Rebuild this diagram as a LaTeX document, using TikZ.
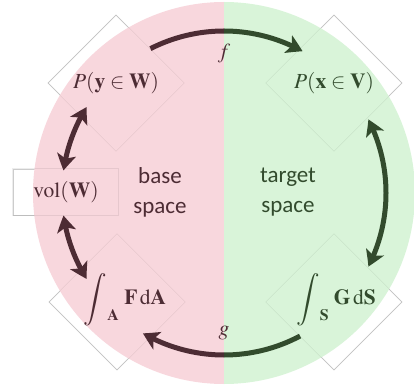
\documentclass[tikz,border=0pt]{standalone}
\usepackage{mathptmx}
\usepackage[no-math]{fontspec}
\newfontfamily\carlito{Carlito}
\usetikzlibrary{shapes.geometric,arrows.meta,calc,bending}
\definecolor{pinkbg}{RGB}{248,215,221}
\definecolor{greenbg}{RGB}{217,244,217}
\definecolor{maroonc}{RGB}{77,44,52}
\definecolor{dgreen}{RGB}{50,75,45}
\newcommand{\bigintsym}[1]{\mathop{\vcenter{\hbox{\scalebox{1.22}{$\displaystyle\int$}}}}\nolimits_{\raisebox{6pt}{$\scriptstyle #1$}}}
\tikzset{
  dframe/.style={diamond, minimum width=136pt, minimum height=136pt, inner sep=0pt, draw=black!20, fill=white, line width=0.6pt},
  rframe/.style={rectangle, minimum width=105pt, minimum height=46pt, inner sep=0pt, draw=black!20, fill=white, line width=0.6pt},
  faint/.style={draw=black, draw opacity=0.07, line width=0.6pt},
  mathtxt/.style={font=\fontsize{21.5}{26}\selectfont, inner sep=0pt},
  sanstxt/.style={font=\carlito\fontsize{23}{30}\selectfont, align=center, inner sep=0pt},
  tipA/.tip={Stealth[length=16pt,width=19pt,inset=4pt]},
  arc/.style={line width=5pt},
}
\begin{document}
\begin{tikzpicture}[x=1pt,y=1pt]
\useasboundingbox (0,0) rectangle (414,391);
\coordinate (c) at (224,198);
% frames under the disc
\node[dframe] (dPW) at (116,308) {};
\node[dframe] (dPV) at (334,308) {};
\node[dframe] (dFA) at (117,89) {};
\node[dframe] (dGS) at (334,89) {};
\node[rframe] (rVol) at (65.5,199) {};
% disc halves
\fill[pinkbg] ($(c)+(90:191)$) arc[start angle=90,end angle=270,radius=191] -- cycle;
\fill[greenbg] ($(c)+(-90:191)$) arc[start angle=-90,end angle=90,radius=191] -- cycle;
% faint outlines over the disc
\foreach \n in {dPW,dPV,dFA,dGS}{
  \draw[faint] (\n.north) -- (\n.east) -- (\n.south) -- (\n.west) -- cycle;
}
\draw[faint] (rVol.south west) rectangle (rVol.north east);
% labels
\node[mathtxt, text=maroonc] (tPW) at (116,308) {$P(\mathbf{y}\in\mathbf{W})$};
\node[mathtxt, text=dgreen] (tPV) at (334,308) {$P(\mathbf{x}\in\mathbf{V})$};
\node[mathtxt, text=maroonc] (tVol) at (66,199) {$\mathrm{vol}(\mathbf{W})$};
\node[mathtxt, text=maroonc] (tFA) at (125,91) {$\bigintsym{\mathbf{A}}\,\mathbf{F}\,\mathrm{d}\mathbf{A}$};
\node[mathtxt, text=dgreen] (tGS) at (336,91) {$\bigintsym{\mathbf{S}}\,\mathbf{G}\,\mathrm{d}\mathbf{S}$};
\node[sanstxt, text=maroonc] (tBase) at (160,199) {base\\space};
\node[sanstxt, text=dgreen] (tTarget) at (288,199) {target\\space};
% arrows
\draw[arc, maroonc] ($(c)+(117:162)$) arc[start angle=117,end angle=90,radius=162];
\draw[arc, dgreen, -{tipA[bend]}] ($(c)+(90:162)$) arc[start angle=90,end angle=61,radius=162];
\node[mathtxt, text=maroonc] (lf) at (224,337) {$f$};
\draw[arc, dgreen] ($(c)+(-62:162)$) arc[start angle=-62,end angle=-90,radius=162];
\draw[arc, maroonc, -{tipA[bend]}] ($(c)+(-90:162)$) arc[start angle=-90,end angle=-120,radius=162];
\node[mathtxt, text=maroonc] (lg) at (224,58) {$g$};
\draw[arc, dgreen, {tipA[bend]}-{tipA[bend]}] ($(c)+(-27:162)$) arc[start angle=-27,end angle=27,radius=162];
\draw[arc, maroonc, {tipA[bend]}-{tipA[bend]}] ($(c)+(148:162)$) arc[start angle=148,end angle=172,radius=162];
\draw[arc, maroonc, {tipA[bend]}-{tipA[bend]}] ($(c)+(188:162)$) arc[start angle=188,end angle=212,radius=162];
\end{tikzpicture}
\end{document}
